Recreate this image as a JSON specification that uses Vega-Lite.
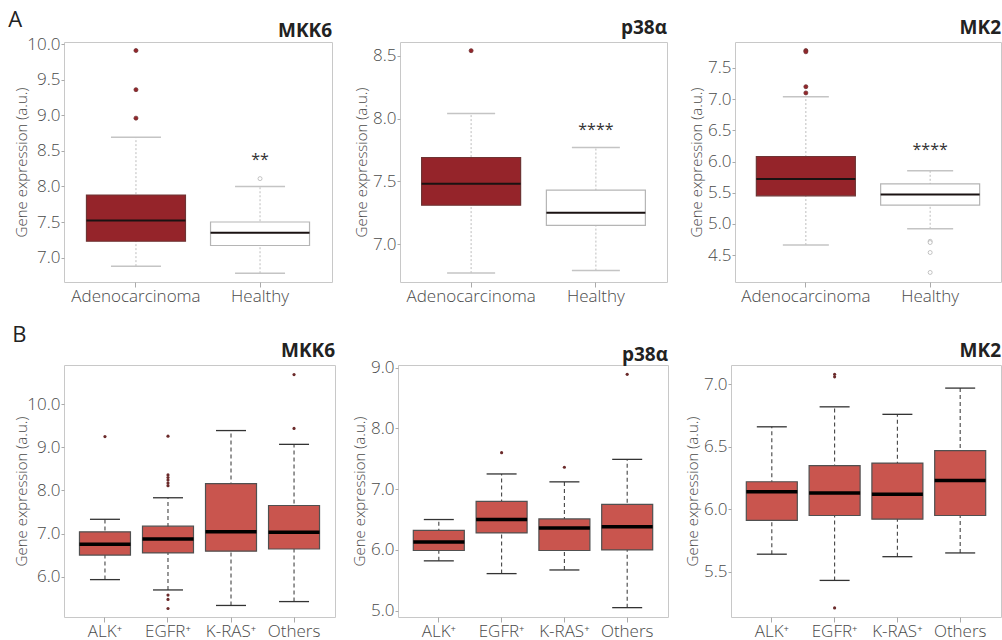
{
  "$schema": "https://vega.github.io/schema/vega-lite/v6.json",
  "background": "white",
  "padding": {"left": 8, "top": 8, "right": 0, "bottom": 0},
  "config": {
    "font": "Open Sans",
    "view": {"stroke": "#c8c8c8", "strokeWidth": 1},
    "axis": {"domain": false, "grid": false, "labelFont": "Open Sans", "labelFontSize": 17, "labelColor": "#4a4a4a", "labelFontWeight": 300, "labelOverlap": false, "titleFont": "Open Sans", "titleFontSize": 15, "titleFontWeight": 300, "titleColor": "#4a4a4a", "tickColor": "#aaaaaa"},
    "axisX": {"tickSize": 5, "labelPadding": 1, "labelAngle": 0},
    "axisY": {"tickSize": 3, "labelPadding": 1, "titlePadding": 3, "format": ".1f", "labelOverlap": false, "tickCount": 20},
    "tick": {"opacity": 1},
    "title": {"font": "Open Sans", "fontSize": 19, "fontWeight": "bold", "color": "#222222", "anchor": "end", "frame": "group", "offset": 0, "baseline": "alphabetic"}
  },
  "datasets": {
    "boxA": [
      {"gene": "MKK6", "group": "Adenocarcinoma", "lower": 6.88, "q1": 7.23, "median": 7.52, "q3": 7.88, "upper": 8.69},
      {"gene": "MKK6", "group": "Healthy", "lower": 6.78, "q1": 7.17, "median": 7.35, "q3": 7.50, "upper": 8.00},
      {"gene": "p38a", "group": "Adenocarcinoma", "lower": 6.77, "q1": 7.31, "median": 7.48, "q3": 7.69, "upper": 8.04},
      {"gene": "p38a", "group": "Healthy", "lower": 6.79, "q1": 7.15, "median": 7.25, "q3": 7.43, "upper": 7.77},
      {"gene": "MK2", "group": "Adenocarcinoma", "lower": 4.66, "q1": 5.45, "median": 5.72, "q3": 6.08, "upper": 7.04},
      {"gene": "MK2", "group": "Healthy", "lower": 4.92, "q1": 5.30, "median": 5.47, "q3": 5.64, "upper": 5.85}
    ],
    "outA": [
      {"gene": "MKK6", "group": "Adenocarcinoma", "value": 9.91},
      {"gene": "MKK6", "group": "Adenocarcinoma", "value": 9.36},
      {"gene": "MKK6", "group": "Adenocarcinoma", "value": 8.96},
      {"gene": "MKK6", "group": "Healthy", "value": 8.11},
      {"gene": "p38a", "group": "Adenocarcinoma", "value": 8.54},
      {"gene": "MK2", "group": "Adenocarcinoma", "value": 7.78},
      {"gene": "MK2", "group": "Adenocarcinoma", "value": 7.76},
      {"gene": "MK2", "group": "Adenocarcinoma", "value": 7.20},
      {"gene": "MK2", "group": "Adenocarcinoma", "value": 7.10},
      {"gene": "MK2", "group": "Healthy", "value": 4.72},
      {"gene": "MK2", "group": "Healthy", "value": 4.70},
      {"gene": "MK2", "group": "Healthy", "value": 4.54},
      {"gene": "MK2", "group": "Healthy", "value": 4.22}
    ],
    "starsA": [
      {"gene": "MKK6", "group": "Healthy", "value": 8.37, "label": "**"},
      {"gene": "p38a", "group": "Healthy", "value": 7.91, "label": "****"},
      {"gene": "MK2", "group": "Healthy", "value": 6.19, "label": "****"}
    ],
    "boxB": [
      {"gene": "MKK6", "group": "ALK⁺", "lower": 5.93, "q1": 6.50, "median": 6.75, "q3": 7.04, "upper": 7.33},
      {"gene": "MKK6", "group": "EGFR⁺", "lower": 5.69, "q1": 6.55, "median": 6.87, "q3": 7.17, "upper": 7.83},
      {"gene": "MKK6", "group": "K-RAS⁺", "lower": 5.33, "q1": 6.59, "median": 7.04, "q3": 8.16, "upper": 9.39},
      {"gene": "MKK6", "group": "Others", "lower": 5.42, "q1": 6.64, "median": 7.03, "q3": 7.65, "upper": 9.07},
      {"gene": "p38a", "group": "ALK⁺", "lower": 5.82, "q1": 5.99, "median": 6.13, "q3": 6.32, "upper": 6.50},
      {"gene": "p38a", "group": "EGFR⁺", "lower": 5.61, "q1": 6.28, "median": 6.50, "q3": 6.80, "upper": 7.25},
      {"gene": "p38a", "group": "K-RAS⁺", "lower": 5.67, "q1": 5.99, "median": 6.36, "q3": 6.51, "upper": 7.12},
      {"gene": "p38a", "group": "Others", "lower": 5.05, "q1": 6.00, "median": 6.38, "q3": 6.75, "upper": 7.49},
      {"gene": "MK2", "group": "ALK⁺", "lower": 5.64, "q1": 5.91, "median": 6.14, "q3": 6.22, "upper": 6.66},
      {"gene": "MK2", "group": "EGFR⁺", "lower": 5.43, "q1": 5.95, "median": 6.13, "q3": 6.35, "upper": 6.82},
      {"gene": "MK2", "group": "K-RAS⁺", "lower": 5.62, "q1": 5.92, "median": 6.12, "q3": 6.37, "upper": 6.76},
      {"gene": "MK2", "group": "Others", "lower": 5.65, "q1": 5.95, "median": 6.23, "q3": 6.47, "upper": 6.97}
    ],
    "outB": [
      {"gene": "MKK6", "group": "ALK⁺", "value": 9.25},
      {"gene": "MKK6", "group": "EGFR⁺", "value": 9.26},
      {"gene": "MKK6", "group": "EGFR⁺", "value": 8.36},
      {"gene": "MKK6", "group": "EGFR⁺", "value": 8.30},
      {"gene": "MKK6", "group": "EGFR⁺", "value": 8.24},
      {"gene": "MKK6", "group": "EGFR⁺", "value": 8.17},
      {"gene": "MKK6", "group": "EGFR⁺", "value": 8.11},
      {"gene": "MKK6", "group": "EGFR⁺", "value": 5.57},
      {"gene": "MKK6", "group": "EGFR⁺", "value": 5.47},
      {"gene": "MKK6", "group": "EGFR⁺", "value": 5.26},
      {"gene": "MKK6", "group": "Others", "value": 10.69},
      {"gene": "MKK6", "group": "Others", "value": 9.44},
      {"gene": "p38a", "group": "EGFR⁺", "value": 7.60},
      {"gene": "p38a", "group": "K-RAS⁺", "value": 7.36},
      {"gene": "p38a", "group": "Others", "value": 8.89},
      {"gene": "MK2", "group": "EGFR⁺", "value": 7.08},
      {"gene": "MK2", "group": "EGFR⁺", "value": 7.06},
      {"gene": "MK2", "group": "EGFR⁺", "value": 5.21}
    ]
  },
  "resolve": {"scale": {"x": "independent", "y": "independent"}},
  "spacing": 18,
  "vconcat": [
    {
      "title": {"text": "A", "anchor": "start", "frame": "bounds", "fontSize": 22, "fontWeight": "normal", "color": "#222222", "offset": -35, "dx": -6, "baseline": "bottom"},
      "spacing": 68,
      "bounds": "flush",
      "resolve": {"scale": {"x": "independent", "y": "independent"}},
      "hconcat": [
        {
          "width": 268, "height": 240,
          "title": {"text": "MKK6", "offset": -6},
          "encoding": {"x": {"field": "group", "type": "nominal", "title": null, "scale": {"type": "band", "domain": ["Adenocarcinoma", "Healthy"], "paddingInner": 0, "paddingOuter": 0.08}}},
          "layer": [
            {"data": {"name": "boxA"}, "transform": [{"filter": "datum.gene === 'MKK6'"}], "mark": {"type": "rule", "color": "#bdbdbd", "strokeDash": [2, 2]}, "encoding": {"y": {"field": "lower", "type": "quantitative", "title": "Gene expression (a.u.)", "scale": {"domain": [6.657, 10.03], "nice": false, "zero": false}, "axis": {"values": [7, 7.5, 8, 8.5, 9, 9.5, 10], "tickCount": 20, "titlePadding": -3}}, "y2": {"field": "upper"}}},
            {"data": {"name": "boxA"}, "transform": [{"filter": "datum.gene === 'MKK6'"}], "mark": {"type": "tick", "color": "#c4c4c4", "size": 50, "thickness": 1.5}, "encoding": {"y": {"field": "lower", "type": "quantitative", "title": "Gene expression (a.u.)"}}},
            {"data": {"name": "boxA"}, "transform": [{"filter": "datum.gene === 'MKK6'"}], "mark": {"type": "tick", "color": "#c4c4c4", "size": 50, "thickness": 1.5}, "encoding": {"y": {"field": "upper", "type": "quantitative", "title": "Gene expression (a.u.)"}}},
            {"data": {"name": "boxA"}, "transform": [{"filter": "datum.gene === 'MKK6'"}], "mark": {"type": "bar", "size": 99, "strokeWidth": 1.2}, "encoding": {"y": {"field": "q1", "type": "quantitative", "title": "Gene expression (a.u.)"}, "y2": {"field": "q3"}, "fill": {"field": "group", "type": "nominal", "scale": {"domain": ["Adenocarcinoma", "Healthy"], "range": ["#95242a", "#ffffff"]}, "legend": null}, "stroke": {"field": "group", "type": "nominal", "scale": {"domain": ["Adenocarcinoma", "Healthy"], "range": ["#6e3434", "#b5b5b5"]}, "legend": null}}},
            {"data": {"name": "boxA"}, "transform": [{"filter": "datum.gene === 'MKK6'"}], "mark": {"type": "tick", "size": 99, "thickness": 2, "color": "#1a1212", "opacity": 1}, "encoding": {"y": {"field": "median", "type": "quantitative", "title": "Gene expression (a.u.)"}}},
            {"data": {"name": "outA"}, "transform": [{"filter": "datum.gene === 'MKK6'"}], "mark": {"type": "point", "filled": true, "size": 16, "strokeWidth": 0.8, "opacity": 1}, "encoding": {"y": {"field": "value", "type": "quantitative", "title": "Gene expression (a.u.)"}, "fill": {"field": "group", "type": "nominal", "legend": null}, "stroke": {"field": "group", "type": "nominal", "legend": null}}},
            {"data": {"name": "starsA"}, "transform": [{"filter": "datum.gene === 'MKK6'"}], "mark": {"type": "text", "fontSize": 16, "color": "#333333", "baseline": "middle"}, "encoding": {"y": {"field": "value", "type": "quantitative", "title": "Gene expression (a.u.)"}, "text": {"field": "label"}}}
          ]
        },
        {
          "width": 267, "height": 240,
          "title": {"text": "p38α"},
          "encoding": {"x": {"field": "group", "type": "nominal", "title": null, "scale": {"type": "band", "domain": ["Adenocarcinoma", "Healthy"], "paddingInner": 0, "paddingOuter": 0.07}}},
          "layer": [
            {"data": {"name": "boxA"}, "transform": [{"filter": "datum.gene === 'p38a'"}], "mark": {"type": "rule", "color": "#bdbdbd", "strokeDash": [2, 2]}, "encoding": {"y": {"field": "lower", "type": "quantitative", "title": "Gene expression (a.u.)", "scale": {"domain": [6.699, 8.609], "nice": false, "zero": false}, "axis": {"values": [7, 7.5, 8, 8.5], "tickCount": 20}}, "y2": {"field": "upper"}}},
            {"data": {"name": "boxA"}, "transform": [{"filter": "datum.gene === 'p38a'"}], "mark": {"type": "tick", "color": "#c4c4c4", "size": 48, "thickness": 1.5}, "encoding": {"y": {"field": "lower", "type": "quantitative", "title": "Gene expression (a.u.)"}}},
            {"data": {"name": "boxA"}, "transform": [{"filter": "datum.gene === 'p38a'"}], "mark": {"type": "tick", "color": "#c4c4c4", "size": 48, "thickness": 1.5}, "encoding": {"y": {"field": "upper", "type": "quantitative", "title": "Gene expression (a.u.)"}}},
            {"data": {"name": "boxA"}, "transform": [{"filter": "datum.gene === 'p38a'"}], "mark": {"type": "bar", "size": 99, "strokeWidth": 1.2}, "encoding": {"y": {"field": "q1", "type": "quantitative", "title": "Gene expression (a.u.)"}, "y2": {"field": "q3"}, "fill": {"field": "group", "type": "nominal", "scale": {"domain": ["Adenocarcinoma", "Healthy"], "range": ["#95242a", "#ffffff"]}, "legend": null}, "stroke": {"field": "group", "type": "nominal", "scale": {"domain": ["Adenocarcinoma", "Healthy"], "range": ["#6e3434", "#b5b5b5"]}, "legend": null}}},
            {"data": {"name": "boxA"}, "transform": [{"filter": "datum.gene === 'p38a'"}], "mark": {"type": "tick", "size": 99, "thickness": 2, "color": "#1a1212", "opacity": 1}, "encoding": {"y": {"field": "median", "type": "quantitative", "title": "Gene expression (a.u.)"}}},
            {"data": {"name": "outA"}, "transform": [{"filter": "datum.gene === 'p38a'"}], "mark": {"type": "point", "filled": true, "size": 16, "strokeWidth": 0.8, "opacity": 1}, "encoding": {"y": {"field": "value", "type": "quantitative", "title": "Gene expression (a.u.)"}, "fill": {"field": "group", "type": "nominal", "legend": null}, "stroke": {"field": "group", "type": "nominal", "legend": null}}},
            {"data": {"name": "starsA"}, "transform": [{"filter": "datum.gene === 'p38a'"}], "mark": {"type": "text", "fontSize": 16, "color": "#333333", "baseline": "middle"}, "encoding": {"y": {"field": "value", "type": "quantitative", "title": "Gene expression (a.u.)"}, "text": {"field": "label"}}}
          ]
        },
        {
          "width": 266, "height": 240,
          "title": {"text": "MK2"},
          "encoding": {"x": {"field": "group", "type": "nominal", "title": null, "scale": {"type": "band", "domain": ["Adenocarcinoma", "Healthy"], "paddingInner": 0, "paddingOuter": 0.07}}},
          "layer": [
            {"data": {"name": "boxA"}, "transform": [{"filter": "datum.gene === 'MK2'"}], "mark": {"type": "rule", "color": "#bdbdbd", "strokeDash": [2, 2]}, "encoding": {"y": {"field": "lower", "type": "quantitative", "title": "Gene expression (a.u.)", "scale": {"domain": [4.067, 7.917], "nice": false, "zero": false}, "axis": {"values": [4.5, 5, 5.5, 6, 6.5, 7, 7.5], "tickCount": 20}}, "y2": {"field": "upper"}}},
            {"data": {"name": "boxA"}, "transform": [{"filter": "datum.gene === 'MK2'"}], "mark": {"type": "tick", "color": "#c4c4c4", "size": 46, "thickness": 1.5}, "encoding": {"y": {"field": "lower", "type": "quantitative", "title": "Gene expression (a.u.)"}}},
            {"data": {"name": "boxA"}, "transform": [{"filter": "datum.gene === 'MK2'"}], "mark": {"type": "tick", "color": "#c4c4c4", "size": 46, "thickness": 1.5}, "encoding": {"y": {"field": "upper", "type": "quantitative", "title": "Gene expression (a.u.)"}}},
            {"data": {"name": "boxA"}, "transform": [{"filter": "datum.gene === 'MK2'"}], "mark": {"type": "bar", "size": 99, "strokeWidth": 1.2}, "encoding": {"y": {"field": "q1", "type": "quantitative", "title": "Gene expression (a.u.)"}, "y2": {"field": "q3"}, "fill": {"field": "group", "type": "nominal", "scale": {"domain": ["Adenocarcinoma", "Healthy"], "range": ["#95242a", "#ffffff"]}, "legend": null}, "stroke": {"field": "group", "type": "nominal", "scale": {"domain": ["Adenocarcinoma", "Healthy"], "range": ["#6e3434", "#b5b5b5"]}, "legend": null}}},
            {"data": {"name": "boxA"}, "transform": [{"filter": "datum.gene === 'MK2'"}], "mark": {"type": "tick", "size": 99, "thickness": 2, "color": "#1a1212", "opacity": 1}, "encoding": {"y": {"field": "median", "type": "quantitative", "title": "Gene expression (a.u.)"}}},
            {"data": {"name": "outA"}, "transform": [{"filter": "datum.gene === 'MK2'"}], "mark": {"type": "point", "filled": true, "size": 16, "strokeWidth": 0.8, "opacity": 1}, "encoding": {"y": {"field": "value", "type": "quantitative", "title": "Gene expression (a.u.)"}, "fill": {"field": "group", "type": "nominal", "legend": null}, "stroke": {"field": "group", "type": "nominal", "legend": null}}},
            {"data": {"name": "starsA"}, "transform": [{"filter": "datum.gene === 'MK2'"}], "mark": {"type": "text", "fontSize": 16, "color": "#333333", "baseline": "middle"}, "encoding": {"y": {"field": "value", "type": "quantitative", "title": "Gene expression (a.u.)"}, "text": {"field": "label"}}}
          ]
        }
      ]
    },
    {
      "title": {"text": "B", "anchor": "start", "frame": "bounds", "fontSize": 22, "fontWeight": "normal", "color": "#222222", "offset": -27, "dx": -2, "baseline": "bottom"},
      "spacing": 63,
      "bounds": "flush",
      "resolve": {"scale": {"x": "independent", "y": "independent"}},
      "hconcat": [
        {
          "width": 271, "height": 252,
          "title": {"text": "MKK6"},
          "encoding": {"x": {"field": "group", "type": "nominal", "title": null, "scale": {"type": "band", "domain": ["ALK⁺", "EGFR⁺", "K-RAS⁺", "Others"], "paddingInner": 0, "paddingOuter": 0.15}}},
          "layer": [
            {"data": {"name": "boxB"}, "transform": [{"filter": "datum.gene === 'MKK6'"}], "mark": {"type": "rule", "color": "#444444", "strokeDash": [4, 3], "strokeWidth": 1.1}, "encoding": {"y": {"field": "lower", "type": "quantitative", "title": "Gene expression (a.u.)", "scale": {"domain": [5.062, 10.912], "nice": false, "zero": false}, "axis": {"values": [6, 7, 8, 9, 10], "tickCount": 20, "titlePadding": -3}}, "y2": {"field": "upper"}}},
            {"data": {"name": "boxB"}, "transform": [{"filter": "datum.gene === 'MKK6'"}], "mark": {"type": "tick", "color": "#333333", "size": 30, "thickness": 1.3}, "encoding": {"y": {"field": "lower", "type": "quantitative", "title": "Gene expression (a.u.)"}}},
            {"data": {"name": "boxB"}, "transform": [{"filter": "datum.gene === 'MKK6'"}], "mark": {"type": "tick", "color": "#333333", "size": 30, "thickness": 1.3}, "encoding": {"y": {"field": "upper", "type": "quantitative", "title": "Gene expression (a.u.)"}}},
            {"data": {"name": "boxB"}, "transform": [{"filter": "datum.gene === 'MKK6'"}], "mark": {"type": "bar", "size": 51, "fill": "#c9554e", "stroke": "#505050", "strokeWidth": 1.2}, "encoding": {"y": {"field": "q1", "type": "quantitative", "title": "Gene expression (a.u.)"}, "y2": {"field": "q3"}}},
            {"data": {"name": "boxB"}, "transform": [{"filter": "datum.gene === 'MKK6'"}], "mark": {"type": "tick", "size": 51, "thickness": 3.5, "color": "#000000", "opacity": 1}, "encoding": {"y": {"field": "median", "type": "quantitative", "title": "Gene expression (a.u.)"}}},
            {"data": {"name": "outB"}, "transform": [{"filter": "datum.gene === 'MKK6'"}], "mark": {"type": "circle", "size": 10, "color": "#6b2a2a", "opacity": 1}, "encoding": {"y": {"field": "value", "type": "quantitative", "title": "Gene expression (a.u.)"}}}
          ]
        },
        {
          "width": 270, "height": 252,
          "title": {"text": "p38α", "offset": -6},
          "encoding": {"x": {"field": "group", "type": "nominal", "title": null, "scale": {"type": "band", "domain": ["ALK⁺", "EGFR⁺", "K-RAS⁺", "Others"], "paddingInner": 0, "paddingOuter": 0.15}}},
          "layer": [
            {"data": {"name": "boxB"}, "transform": [{"filter": "datum.gene === 'p38a'"}], "mark": {"type": "rule", "color": "#444444", "strokeDash": [4, 3], "strokeWidth": 1.1}, "encoding": {"y": {"field": "lower", "type": "quantitative", "title": "Gene expression (a.u.)", "scale": {"domain": [4.896, 9.043], "nice": false, "zero": false}, "axis": {"values": [5, 6, 7, 8, 9], "tickCount": 20}}, "y2": {"field": "upper"}}},
            {"data": {"name": "boxB"}, "transform": [{"filter": "datum.gene === 'p38a'"}], "mark": {"type": "tick", "color": "#333333", "size": 30, "thickness": 1.3}, "encoding": {"y": {"field": "lower", "type": "quantitative", "title": "Gene expression (a.u.)"}}},
            {"data": {"name": "boxB"}, "transform": [{"filter": "datum.gene === 'p38a'"}], "mark": {"type": "tick", "color": "#333333", "size": 30, "thickness": 1.3}, "encoding": {"y": {"field": "upper", "type": "quantitative", "title": "Gene expression (a.u.)"}}},
            {"data": {"name": "boxB"}, "transform": [{"filter": "datum.gene === 'p38a'"}], "mark": {"type": "bar", "size": 51, "fill": "#c9554e", "stroke": "#505050", "strokeWidth": 1.2}, "encoding": {"y": {"field": "q1", "type": "quantitative", "title": "Gene expression (a.u.)"}, "y2": {"field": "q3"}}},
            {"data": {"name": "boxB"}, "transform": [{"filter": "datum.gene === 'p38a'"}], "mark": {"type": "tick", "size": 51, "thickness": 3.5, "color": "#000000", "opacity": 1}, "encoding": {"y": {"field": "median", "type": "quantitative", "title": "Gene expression (a.u.)"}}},
            {"data": {"name": "outB"}, "transform": [{"filter": "datum.gene === 'p38a'"}], "mark": {"type": "circle", "size": 10, "color": "#6b2a2a", "opacity": 1}, "encoding": {"y": {"field": "value", "type": "quantitative", "title": "Gene expression (a.u.)"}}}
          ]
        },
        {
          "width": 270, "height": 252,
          "title": {"text": "MK2"},
          "encoding": {"x": {"field": "group", "type": "nominal", "title": null, "scale": {"type": "band", "domain": ["ALK⁺", "EGFR⁺", "K-RAS⁺", "Others"], "paddingInner": 0, "paddingOuter": 0.15}}},
          "layer": [
            {"data": {"name": "boxB"}, "transform": [{"filter": "datum.gene === 'MK2'"}], "mark": {"type": "rule", "color": "#444444", "strokeDash": [4, 3], "strokeWidth": 1.1}, "encoding": {"y": {"field": "lower", "type": "quantitative", "title": "Gene expression (a.u.)", "scale": {"domain": [5.137, 7.155], "nice": false, "zero": false}, "axis": {"values": [5.5, 6, 6.5, 7], "tickCount": 20}}, "y2": {"field": "upper"}}},
            {"data": {"name": "boxB"}, "transform": [{"filter": "datum.gene === 'MK2'"}], "mark": {"type": "tick", "color": "#333333", "size": 30, "thickness": 1.3}, "encoding": {"y": {"field": "lower", "type": "quantitative", "title": "Gene expression (a.u.)"}}},
            {"data": {"name": "boxB"}, "transform": [{"filter": "datum.gene === 'MK2'"}], "mark": {"type": "tick", "color": "#333333", "size": 30, "thickness": 1.3}, "encoding": {"y": {"field": "upper", "type": "quantitative", "title": "Gene expression (a.u.)"}}},
            {"data": {"name": "boxB"}, "transform": [{"filter": "datum.gene === 'MK2'"}], "mark": {"type": "bar", "size": 51, "fill": "#c9554e", "stroke": "#505050", "strokeWidth": 1.2}, "encoding": {"y": {"field": "q1", "type": "quantitative", "title": "Gene expression (a.u.)"}, "y2": {"field": "q3"}}},
            {"data": {"name": "boxB"}, "transform": [{"filter": "datum.gene === 'MK2'"}], "mark": {"type": "tick", "size": 51, "thickness": 3.5, "color": "#000000", "opacity": 1}, "encoding": {"y": {"field": "median", "type": "quantitative", "title": "Gene expression (a.u.)"}}},
            {"data": {"name": "outB"}, "transform": [{"filter": "datum.gene === 'MK2'"}], "mark": {"type": "circle", "size": 10, "color": "#6b2a2a", "opacity": 1}, "encoding": {"y": {"field": "value", "type": "quantitative", "title": "Gene expression (a.u.)"}}}
          ]
        }
      ]
    }
  ]
}
